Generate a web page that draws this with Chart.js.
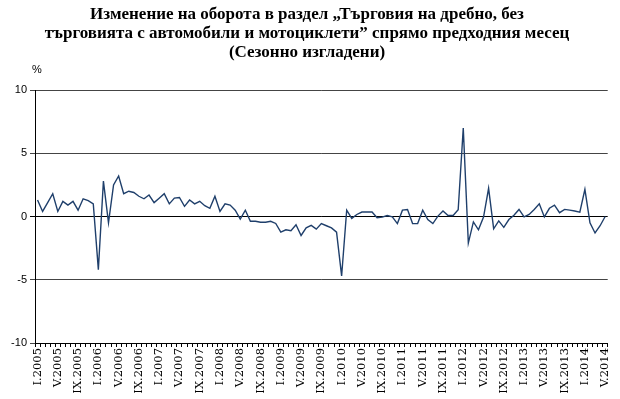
<!DOCTYPE html>
<html>
<head>
<meta charset="utf-8">
<script src="https://cdn.jsdelivr.net/npm/chart.js@4"></script>
<style>
  body { margin: 0; background: #fff; }
  #wrap { width: 620px; height: 399px; }
</style>
</head>
<body>
<div id="wrap"><canvas id="chart"></canvas></div>
<script>
const romanMonths = ['I', 'II', 'III', 'IV', 'V', 'VI', 'VII', 'VIII', 'IX', 'X', 'XI', 'XII'];
const years = [2005, 2006, 2007, 2008, 2009, 2010, 2011, 2012, 2013, 2014];

// monthly categories I.2005 .. V.2014
const categories = [];
years.forEach((y) => {
  romanMonths.forEach((m, i) => {
    if (y === 2014 && i > 4) return;
    categories.push(m + '.' + y);
  });
});

// % change vs previous month, seasonally adjusted
const changeValues = [
  1.3, 0.4, 1.1, 1.8, 0.4, 1.2, 0.9, 1.2, 0.5, 1.4, 1.25, 1.0,
  -4.2, 2.8, -0.5, 2.5, 3.2, 1.8, 2.0, 1.9, 1.6, 1.4, 1.7, 1.1,
  1.45, 1.8, 1.0, 1.45, 1.5, 0.8, 1.3, 1.0, 1.2, 0.85, 0.65, 1.6,
  0.4, 1.0, 0.9, 0.5, -0.2, 0.5, -0.38, -0.38, -0.45, -0.45, -0.38, -0.55,
  -1.24, -1.05, -1.13, -0.65, -1.5, -0.9, -0.7, -1.0, -0.56, -0.73, -0.9, -1.24,
  -4.7, 0.5, -0.15, 0.16, 0.35, 0.35, 0.35, -0.1, -0.05, 0.08, -0.03, -0.56,
  0.5, 0.55, -0.56, -0.56, 0.5, -0.24, -0.56, 0.03, 0.43, 0.08, 0.08, 0.54,
  7.0, -2.1, -0.43, -1.05, -0.05, 2.23, -0.97, -0.35, -0.86, -0.24, 0.1, 0.56,
  -0.03, 0.16, 0.56, 1.0, -0.03, 0.65, 0.9, 0.3, 0.56, 0.5, 0.43, 0.35,
  2.15, -0.5, -1.3, -0.73, 0.0
];

const yTicks = [-10, -5, 0, 5, 10];

const titleLines = [
  'Изменение на оборота в раздел „Търговия на дребно, без',
  'търговията с автомобили и мотоциклети” спрямо предходния месец',
  '(Сезонно изгладени)'
];

// small "%" unit above the y axis
const unitLabel = {
  id: 'unitLabel',
  afterDraw(chart) {
    const { ctx, chartArea } = chart;
    ctx.save();
    ctx.font = '11px "Liberation Sans"';
    ctx.fillStyle = '#000';
    ctx.textAlign = 'center';
    ctx.textBaseline = 'middle';
    ctx.fillText('%', chartArea.left + 2, chartArea.top - 20);
    ctx.restore();
  }
};

const ctx = document.getElementById('chart').getContext('2d');
new Chart(ctx, {
  type: 'line',
  data: {
    labels: categories,
    datasets: [{
      data: changeValues,
      borderColor: '#1f3f6b',
      borderWidth: 1.4,
      pointRadius: 0,
      tension: 0,
      fill: false
    }]
  },
  options: {
    responsive: true,
    maintainAspectRatio: false,
    animation: false,
    layout: { padding: { left: 0, right: 6, top: 0, bottom: 0 } },
    plugins: {
      legend: { display: false },
      tooltip: { enabled: false },
      title: {
        display: true,
        text: titleLines,
        color: '#000',
        font: { family: '"Liberation Serif"', size: 17, weight: 'bold', lineHeight: 19 / 17 },
        padding: { top: 5, bottom: 28 }
      }
    },
    scales: {
      x: {
        offset: true,
        afterFit: (axis) => { axis.height = 56; },
        grid: {
          offset: true,
          drawOnChartArea: false,
          drawTicks: true,
          tickLength: 4,
          color: '#000'
        },
        border: { color: '#000', width: 1 },
        ticks: {
          autoSkip: false,
          minRotation: 90,
          maxRotation: 90,
          padding: 1,
          color: '#000',
          font: { family: '"DejaVu Serif"', size: 11.5 },
          callback: (val, idx) => (idx % 4 === 0 ? categories[idx] : '')
        }
      },
      y: {
        min: yTicks[0],
        max: yTicks[yTicks.length - 1],
        afterFit: (axis) => { axis.width = 35; },
        afterBuildTicks: (axis) => { axis.ticks = yTicks.map((v) => ({ value: v })); },
        grid: {
          color: (c) => (c.tick && c.tick.value === 0 ? '#000' : '#444'),
          tickLength: 5,
          lineWidth: 1
        },
        border: { color: '#000', width: 1 },
        ticks: {
          padding: 3,
          color: '#000',
          font: { family: '"Liberation Sans"', size: 11 }
        }
      }
    }
  },
  plugins: [unitLabel]
});
</script>
</body>
</html>
